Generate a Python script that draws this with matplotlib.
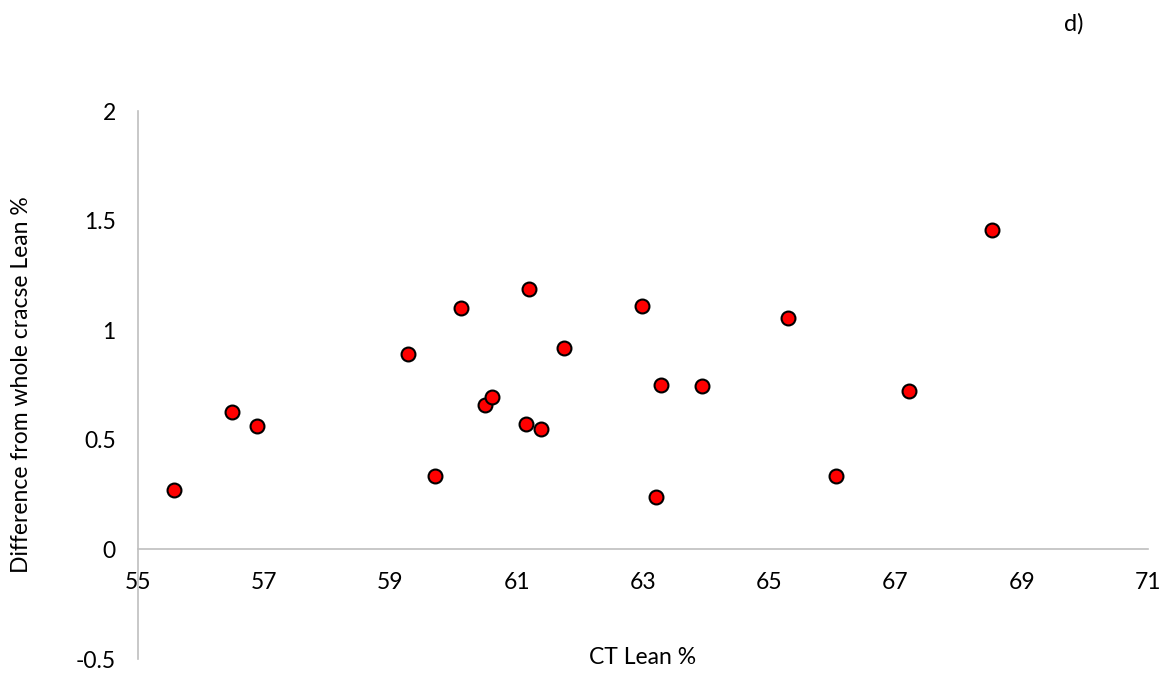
import matplotlib
matplotlib.use("Agg")
from matplotlib import pyplot as plt

# Data
ct_lean = [55.57, 56.49, 56.89, 59.27, 59.70, 60.11, 60.50, 60.60, 61.14, 61.19,
           61.38, 61.75, 62.99, 63.21, 63.28, 63.94, 65.30, 66.06, 67.22, 68.53]
diff_lean = [0.27, 0.626, 0.565, 0.893, 0.334, 1.10, 0.659, 0.697, 0.574, 1.19,
             0.551, 0.92, 1.11, 0.241, 0.752, 0.747, 1.057, 0.337, 0.724, 1.458]
x_ticks = [55, 57, 59, 61, 63, 65, 67, 69, 71]
y_ticks = [-0.5, 0, 0.5, 1, 1.5, 2]

plt.rcParams['font.family'] = ['Lato', 'DejaVu Sans']
axis_grey = '#BFBFBF'
txt = '#000000'
fs = 16.5

fig = plt.figure(figsize=(11.71, 6.75), dpi=100)
ax = fig.add_axes([138 / 1171, 1 - 659 / 675, (1148 - 138) / 1171, (659 - 111) / 675])

ax.scatter(ct_lean, diff_lean, s=100, c='#FF0000', edgecolors='black',
           linewidths=1.5, zorder=3)

ax.set_xlim(55, 71)
ax.set_ylim(-0.5, 2)
ax.set_xticks(x_ticks)
ax.set_yticks(y_ticks)
ax.set_xticklabels([str(v) for v in x_ticks])
ax.set_yticklabels(['-0.5', '0', '0.5', '1', '1.5', '2'])

for s in ['top', 'right']:
    ax.spines[s].set_visible(False)
ax.spines['bottom'].set_position(('data', 0))
ax.spines['bottom'].set_color(axis_grey)
ax.spines['left'].set_color(axis_grey)
ax.spines['bottom'].set_linewidth(1.2)
ax.spines['left'].set_linewidth(1.2)
ax.tick_params(axis='both', length=0, labelsize=fs, colors=txt)
ax.tick_params(axis='x', pad=16)
ax.tick_params(axis='y', pad=16)

fig.text(643 / 1171, 1 - 657 / 675, 'CT Lean %', ha='center', va='center',
         fontsize=fs, color=txt)
fig.text(22 / 1171, 1 - 385 / 675, 'Difference from whole cracse Lean %',
         ha='center', va='center', rotation=90, fontsize=fs, color=txt)
fig.text(1074 / 1171, 1 - 24 / 675, 'd)', ha='center', va='center',
         fontsize=17, color=txt)

plt.savefig('out.png', dpi=100)
